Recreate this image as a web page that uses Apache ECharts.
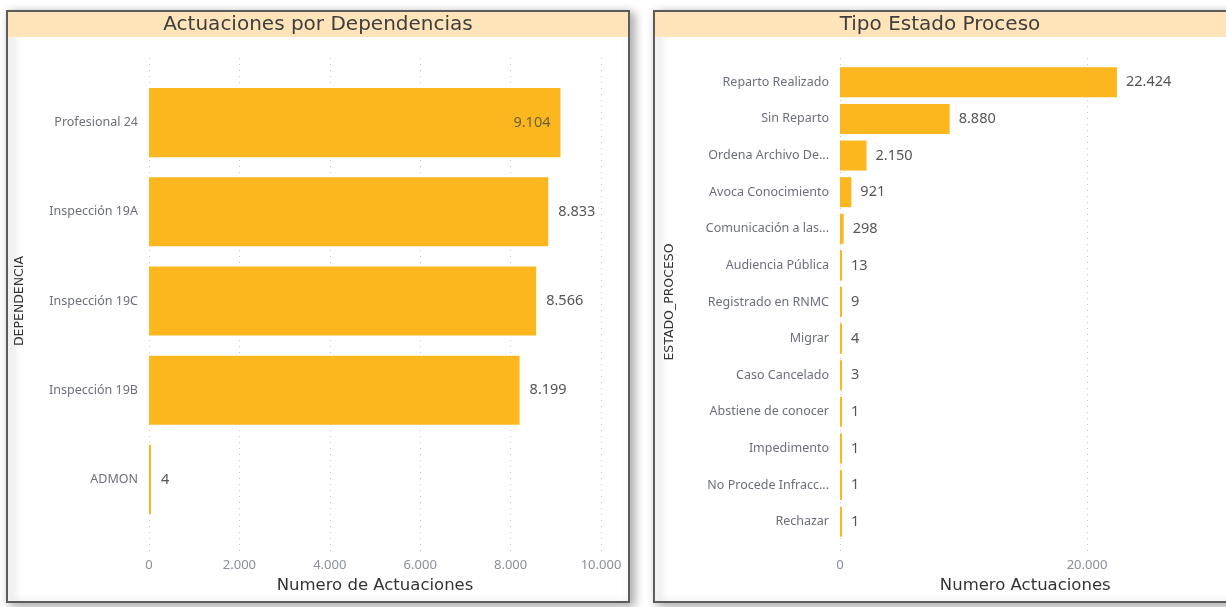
<!DOCTYPE html>
<html>
<head>
<meta charset="utf-8">
<script src="https://cdn.jsdelivr.net/npm/echarts@6/dist/echarts.min.js"></script>
<style>
html,body{margin:0;padding:0;background:#fff;}
#c{width:1226px;height:607px;}
</style>
</head>
<body>
<div id="c"></div>
<script>
// ---- Data ----
const depCategories = ['Profesional 24', 'Inspección 19A', 'Inspección 19C', 'Inspección 19B', 'ADMON'];
const depValues = [9104, 8833, 8566, 8199, 4];
const depTicks = [0, 2000, 4000, 6000, 8000, 10000];

const estCategories = ['Reparto Realizado', 'Sin Reparto', 'Ordena Archivo De...', 'Avoca Conocimiento',
  'Comunicación a las...', 'Audiencia Pública', 'Registrado en RNMC', 'Migrar', 'Caso Cancelado',
  'Abstiene de conocer', 'Impedimento', 'No Procede Infracc...', 'Rechazar'];
const estValues = [22424, 8880, 2150, 921, 298, 13, 9, 4, 3, 1, 1, 1, 1];
const estTicks = [0, 20000];

const titles = ['Actuaciones por Dependencias', 'Tipo Estado Proceso'];
const xNames = ['Numero de Actuaciones', 'Numero Actuaciones'];
const yNames = ['DEPENDENCIA', 'ESTADO_PROCESO'];

// ---- Styling ----
const BAR = '#FDB71E';
const fmt = v => String(Math.round(v)).replace(/\B(?=(\d{3})+(?!\d))/g, '.');
const labelFont = 'Noto Sans';
const catLabel = {color: '#6c6f7a', fontSize: 12.5, fontFamily: labelFont, margin: 11};
const grid = {type: [1, 5], color: '#c8c8c8', width: 1};
const tickLabel = {color: '#8a8f9a', fontSize: 13, fontFamily: labelFont, margin: 4, formatter: fmt};
const xNameStyle = {color: '#333', fontSize: 16.5, fontFamily: 'DejaVu Sans'};
const yNameStyle = {color: '#333', fontSize: 12.5, fontFamily: 'DejaVu Sans'};
const valLabel = {show: true, position: 'right', distance: 10, color: '#555', fontSize: 14.5, fontFamily: labelFont, formatter: p => fmt(p.value)};

const chart = echarts.init(document.getElementById('c'), null, {renderer: 'canvas'});

function panel(x, w, cx, title) {
  return [
    {type: 'rect', z: -5, shape: {x: x, y: 11, width: w, height: 591},
      style: {fill: '#fff', stroke: '#5c5c5c', lineWidth: 2, shadowBlur: 10, shadowColor: 'rgba(0,0,0,0.35)', shadowOffsetX: 4, shadowOffsetY: 3}},
    {type: 'rect', z: -4, shape: {x: x + 1, y: 12, width: w - 2, height: 25}, style: {fill: '#FFE4BA'}},
    {type: 'text', z: 10, x: cx, y: 25, style: {text: title, fill: '#3e3e3e', font: '20px "DejaVu Sans"', align: 'center', verticalAlign: 'middle'}}
  ];
}

const option = {
  animation: false,
  backgroundColor: '#fff',
  graphic: {elements: [].concat(panel(7, 622, 318, titles[0]), panel(654, 600, 940, titles[1]))},
  grid: [
    {left: 149, right: 625, top: 78, bottom: 83},
    {left: 149, right: 625, top: 58, bottom: 52},
    {left: 840, right: 15.5, top: 64, bottom: 67},
    {left: 840, right: 15.5, top: 58, bottom: 52}
  ],
  xAxis: [
    {type: 'value', gridIndex: 0, min: depTicks[0], max: depTicks[depTicks.length - 1], interval: depTicks[1] - depTicks[0], show: false},
    {type: 'value', gridIndex: 1, min: depTicks[0], max: depTicks[depTicks.length - 1], interval: depTicks[1] - depTicks[0],
      axisLine: {show: false}, axisTick: {show: false}, splitLine: {show: true, lineStyle: grid},
      axisLabel: tickLabel,
      name: xNames[0], nameLocation: 'middle', nameGap: 21, nameTextStyle: xNameStyle},
    {type: 'value', gridIndex: 2, min: 0, max: 30000, interval: estTicks[1] - estTicks[0], show: false},
    {type: 'value', gridIndex: 3, min: 0, max: 30000, interval: estTicks[1] - estTicks[0],
      axisLine: {show: false}, axisTick: {show: false}, splitLine: {show: true, showMaxLine: false, lineStyle: grid},
      axisLabel: Object.assign({}, tickLabel, {showMaxLabel: false}),
      name: xNames[1], nameLocation: 'middle', nameGap: 21, nameTextStyle: xNameStyle}
  ],
  yAxis: [
    {type: 'category', gridIndex: 0, data: depCategories, inverse: true,
      axisLine: {show: false}, axisTick: {show: false}, splitLine: {show: false}, axisLabel: catLabel,
      name: yNames[0], nameLocation: 'middle', nameGap: 123, nameTextStyle: yNameStyle},
    {type: 'value', gridIndex: 1, show: false},
    {type: 'category', gridIndex: 2, data: estCategories, inverse: true,
      axisLine: {show: false}, axisTick: {show: false}, splitLine: {show: false}, axisLabel: catLabel,
      name: yNames[1], nameLocation: 'middle', nameGap: 164, nameTextStyle: yNameStyle},
    {type: 'value', gridIndex: 3, show: false}
  ],
  series: [
    {type: 'bar', xAxisIndex: 0, yAxisIndex: 0, barCategoryGap: '22.5%', barMinHeight: 2,
      itemStyle: {color: BAR},
      data: depValues.map((v, i) => ({
        value: v,
        label: i === 0 ? {position: 'insideRight', distance: 10, color: '#6e5f3a'} : undefined
      })),
      label: valLabel},
    {type: 'bar', xAxisIndex: 2, yAxisIndex: 2, barCategoryGap: '18%', barMinHeight: 2,
      itemStyle: {color: BAR}, data: estValues,
      label: Object.assign({}, valLabel, {distance: 9})}
  ]
};
chart.setOption(option);
</script>
</body>
</html>
